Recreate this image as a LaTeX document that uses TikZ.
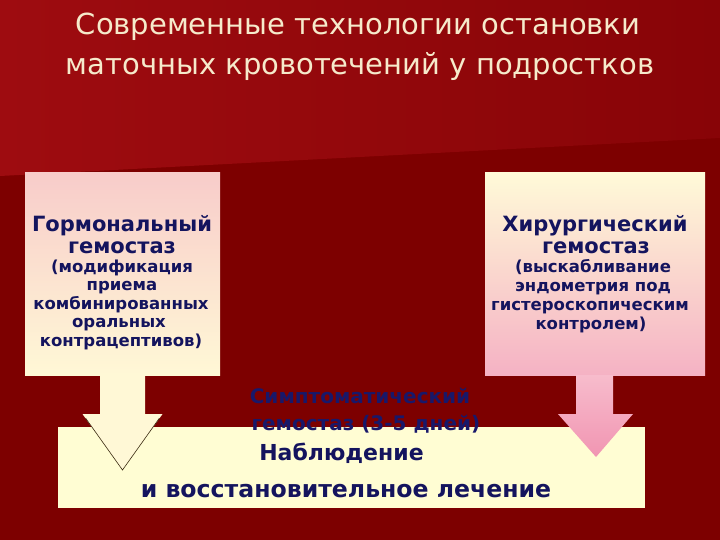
\documentclass[tikz,border=0pt]{standalone}
\usepackage{fontspec}
\setmainfont{DejaVu Sans}
\usetikzlibrary{calc}
\definecolor{bgdark}{HTML}{7D0000}
\definecolor{bglight}{HTML}{9E0C10}
\definecolor{bgmid}{HTML}{880407}
\definecolor{pinkA}{HTML}{F8CCCA}
\definecolor{creamA}{HTML}{FFF8D6}
\definecolor{creamT}{HTML}{FFFAD8}
\definecolor{pinkB}{HTML}{F5B2C4}
\definecolor{pinkC}{HTML}{F7BCCC}
\definecolor{pinkD}{HTML}{F195B2}
\definecolor{creamB}{HTML}{FFFDD3}
\definecolor{navy}{HTML}{14145E}
\definecolor{sympt}{HTML}{18186A}
\definecolor{titlecol}{HTML}{F6EACB}
\definecolor{edgecol}{HTML}{3A2A10}
\begin{document}
\begin{tikzpicture}[x=1pt,y=-1pt,
  panel/.style={draw=none, inner sep=0pt, outer sep=0pt, anchor=north west},
  ln/.style={anchor=base, inner sep=0pt, text=navy},
  hfont/.style={font=\fontsize{21}{24}\selectfont\bfseries},
  sfont/.style={font=\fontsize{16.5}{19}\selectfont\bfseries},
  tfont/.style={font=\fontsize{29}{34}\selectfont},
  symfont/.style={font=\fontsize{20}{24}\selectfont\bfseries},
  b1font/.style={font=\fontsize{22}{26}\selectfont\bfseries},
  b2font/.style={font=\fontsize{23.6}{27}\selectfont\bfseries}]
\useasboundingbox (0,0) rectangle (720,540);
% background
\fill[bgdark] (0,0) rectangle (720,540);
\shade[left color=bglight, right color=bgmid] (0,0) -- (720,0) -- (720,138) -- (0,176) -- cycle;
% title
\node[anchor=base, inner sep=0pt, text=titlecol, tfont] (t1) at (358,35) {Современные технологии остановки};
\node[anchor=base, inner sep=0pt, text=titlecol, tfont] (t2) at (360,75) {маточных кровотечений у подростков};
% panels
\node[panel, minimum width=195pt, minimum height=202pt, top color=pinkA, bottom color=creamA] (leftbox) at (25,173) {};
\node[panel, minimum width=220pt, minimum height=202pt, top color=creamT, bottom color=pinkB] (rightbox) at (485,173) {};
\node[panel, minimum width=587pt, minimum height=81pt, fill=creamB] (bottombox) at (58,427) {};
% symptomatic text
\node[ln, text=sympt, symfont] (s1) at (360,403) {Симптоматический};
\node[ln, text=sympt, symfont] (s2) at (366,430) {гемостаз (3-5 дней)};
% left arrow
\fill[creamA] ($(leftbox.south)+(-22.5,0)$) -- ($(leftbox.south)+(-22.5,39)$) -- ($(leftbox.south)+(-40,39)$)
  -- ($(leftbox.south)+(0,95)$) -- ($(leftbox.south)+(40,39)$) -- ($(leftbox.south)+(22.5,39)$)
  -- ($(leftbox.south)+(22.5,0)$) -- cycle;
\draw[edgecol, line width=0.6pt] ($(leftbox.south)+(-37,43)$) -- ($(leftbox.south)+(0,95)$) -- ($(leftbox.south)+(37,43)$);
% right arrow
\shade[top color=pinkC, bottom color=pinkD] ($(rightbox.south)+(-19,0)$) -- ($(rightbox.south)+(-19,39)$) -- ($(rightbox.south)+(-37,39)$)
  -- ($(rightbox.south)+(1,82)$) -- ($(rightbox.south)+(38,39)$) -- ($(rightbox.south)+(18,39)$)
  -- ($(rightbox.south)+(18,0)$) -- cycle;
% left panel text
\node[ln, hfont] (lh1) at (122,232) {Гормональный};
\node[ln, hfont] (lh2) at (122,253) {гемостаз};
\node[ln, sfont] (ls1) at (122,272) {(модификация};
\node[ln, sfont] (ls2) at (122,290.5) {приема};
\node[ln, sfont] (ls3) at (121,309) {комбинированных};
\node[ln, sfont] (ls4) at (119,327.5) {оральных};
\node[ln, sfont] (ls5) at (121,346) {контрацептивов)};
% right panel text
\node[ln, hfont] (rh1) at (595,232) {Хирургический};
\node[ln, hfont] (rh2) at (596,253) {гемостаз};
\node[ln, sfont] (rs1) at (593,272) {(выскабливание};
\node[ln, sfont] (rs2) at (593,291) {эндометрия под};
\node[ln, sfont] (rs3) at (590,310) {гистероскопическим};
\node[ln, sfont] (rs4) at (591,329) {контролем)};
% bottom text
\node[ln, b1font] (b1) at (341.5,460) {Наблюдение};
\node[ln, b2font] (b2) at (346,497) {и восстановительное лечение};
\end{tikzpicture}
\end{document}
